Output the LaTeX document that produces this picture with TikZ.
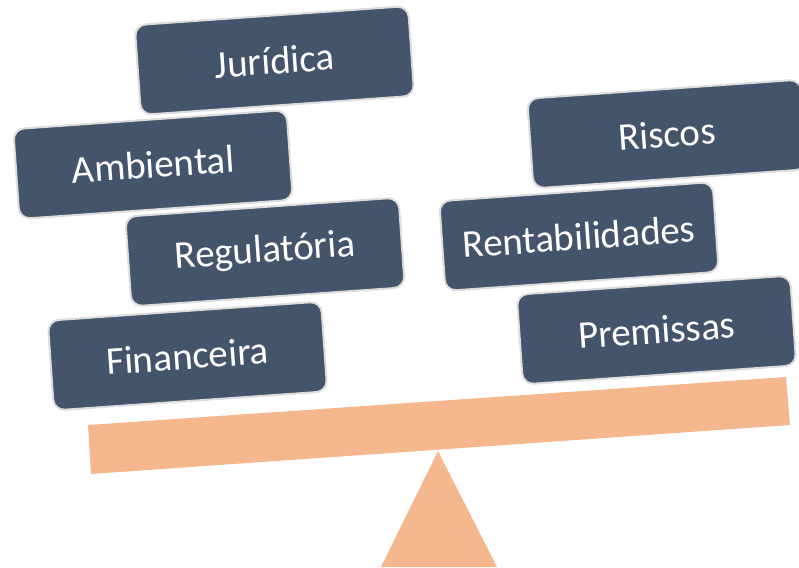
\documentclass[tikz,border=0pt]{standalone}
\usepackage{fontspec}
\setmainfont{Carlito}
\definecolor{cardfill}{HTML}{44546A}
\definecolor{cardline}{HTML}{DCDCDC}
\definecolor{plankcol}{HTML}{F4B78E}
\begin{document}
\begin{tikzpicture}[x=1pt,y=-1pt,
  card/.style={draw=cardline, line width=2pt, fill=cardfill, rounded corners=11pt,
    minimum width=274pt, minimum height=90pt, rotate=4, text=white,
    font=\fontsize{39}{47}\selectfont, inner sep=0pt},
  plank/.style={fill=plankcol}]
\useasboundingbox (0,0) rectangle (799,567);
% balance
\fill[plank] (88,425) -- (786,377) -- (790,425) -- (91,474) -- cycle;
\fill[plank] (438,451) -- (497,567) -- (381,567) -- cycle;
% left side
\node[card] (jur) at (274.5,60.5) {Jurídica};
\node[card] (amb) at (153,164.5) {Ambiental};
\node[card] (reg) at (265,252) {Regulatória};
\node[card] (fin) at (187.5,356) {Financeira};
% right side
\node[card] (ris) at (667,134) {Riscos};
\node[card] (ren) at (579,236.5) {Rentabilidades};
\node[card] (pre) at (656.5,330) {Premissas};
\end{tikzpicture}
\end{document}
